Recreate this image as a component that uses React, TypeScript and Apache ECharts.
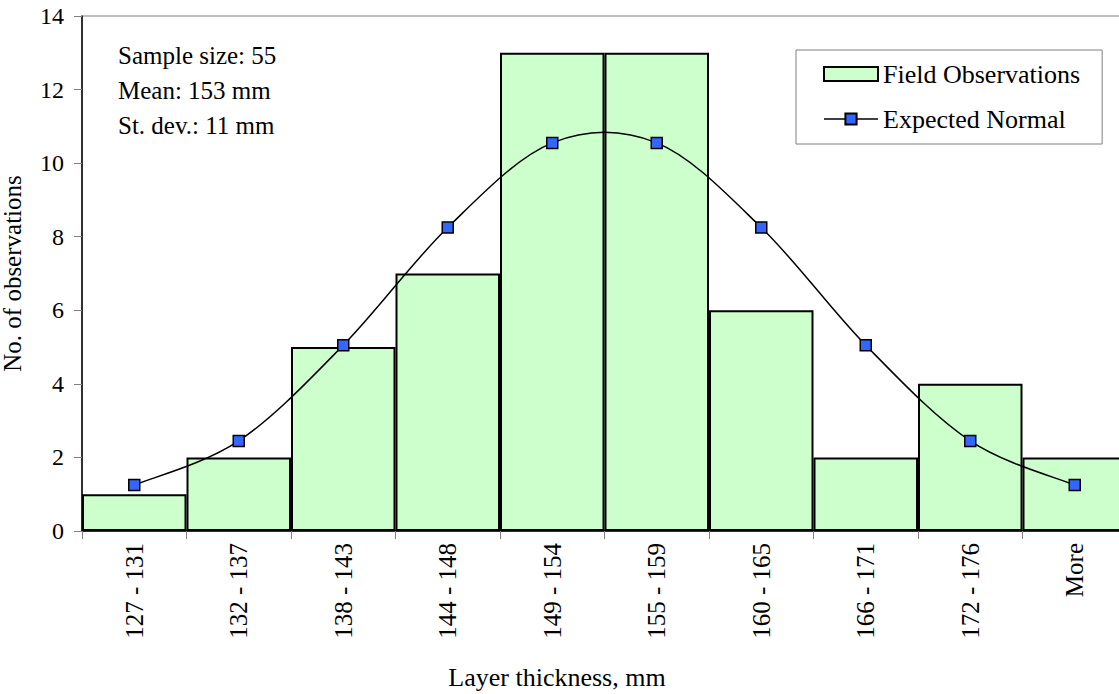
import React, { useEffect, useRef } from "react";
import * as echarts from "echarts";

const categories = ["127 - 131", "132 - 137", "138 - 143", "144 - 148", "149 - 154", "155 - 159", "160 - 165", "166 - 171", "172 - 176", "More"];
const fieldObservations = [1, 2, 5, 7, 13, 13, 6, 2, 4, 2];
const expectedNormal = [1.25, 2.45, 5.05, 8.25, 10.55, 10.55, 8.25, 5.05, 2.45, 1.25];
const statLines = ["Sample size: 55", "Mean: 153 mm", "St. dev.: 11 mm"];

const FONT = '"Times New Roman", "Liberation Serif", "DejaVu Serif", serif';

export default function App() {
  const ref = useRef<HTMLDivElement>(null);
  useEffect(() => {
    document.body.style.margin = "0";
    if (!ref.current) return;
    const chart = echarts.init(ref.current, null, { renderer: "svg" });
    chart.setOption({
      animation: false,
      backgroundColor: "#ffffff",
      textStyle: { fontFamily: FONT, color: "#000" },
      grid: {
        left: 82, top: 16, width: 1045, height: 515,
        outerBoundsMode: "none", containLabel: false,
        show: true, borderColor: "#808080", borderWidth: 1, backgroundColor: "#fff",
      },
      legend: {
        orient: "vertical",
        left: 796,
        top: 50,
        padding: [11, 22, 12, 27],
        itemGap: 19,
        itemWidth: 54,
        itemHeight: 14,
        borderColor: "#808080",
        borderWidth: 1,
        backgroundColor: "#fff",
        textStyle: { fontFamily: FONT, fontSize: 26, color: "#000" },
        data: [
          { name: "Field Observations", icon: "rect" },
          { name: "Expected Normal", lineStyle: { color: "#000", width: 1.5, opacity: 1 } },
        ],
      },
      xAxis: {
        type: "category",
        data: categories,
        axisLine: { lineStyle: { color: "#000", width: 1.5 } },
        axisTick: { show: true, length: 8, lineStyle: { color: "#808080" } },
        axisLabel: { rotate: 90, margin: 12, fontSize: 25, fontFamily: FONT, color: "#000" },
      },
      yAxis: {
        type: "value",
        min: 0,
        max: 14,
        interval: 2,
        name: "No. of observations",
        nameLocation: "middle",
        nameGap: 57,
        nameTextStyle: { fontSize: 25, fontFamily: FONT, color: "#000" },
        axisLine: { show: true, lineStyle: { color: "#000", width: 1.5 } },
        axisTick: { show: true, length: 8, lineStyle: { color: "#808080" } },
        axisLabel: { margin: 18, fontSize: 24, fontFamily: FONT, color: "#000" },
        splitLine: { show: false },
      },
      graphic: [
        {
          type: "text",
          left: 118,
          top: 38,
          style: {
            text: statLines.join("\n"),
            fontSize: 25,
            fontFamily: FONT,
            lineHeight: 35,
            fill: "#000",
          },
        },
        {
          type: "text",
          x: 557,
          y: 677,
          style: {
            text: "Layer thickness, mm",
            fontSize: 26,
            fontFamily: FONT,
            fill: "#000",
            align: "center",
            verticalAlign: "middle",
          },
        },
      ],
      series: [
        {
          name: "Field Observations",
          type: "bar",
          data: fieldObservations,
          barCategoryGap: 0,
          itemStyle: { color: "#CCFFCC", borderColor: "#000", borderWidth: 2 },
        },
        {
          name: "Expected Normal Curve",
          type: "custom",
          data: expectedNormal.map((v, i) => [i, v]),
          z: 4,
          silent: true,
          renderItem: (params: any, api: any) => {
            if (params.dataIndex !== 0) return null;
            const pts = expectedNormal.map((v, i) => api.coord([i, v]));
            const n = pts.length;
            let d = `M${pts[0][0]},${pts[0][1]}`;
            for (let i = 0; i < n - 1; i++) {
              const p0 = pts[Math.max(0, i - 1)];
              const p1 = pts[i];
              const p2 = pts[i + 1];
              const p3 = pts[Math.min(n - 1, i + 2)];
              const c1x = p1[0] + (p2[0] - p0[0]) / 6;
              const c1y = p1[1] + (p2[1] - p0[1]) / 6;
              const c2x = p2[0] - (p3[0] - p1[0]) / 6;
              const c2y = p2[1] - (p3[1] - p1[1]) / 6;
              d += ` C${c1x},${c1y} ${c2x},${c2y} ${p2[0]},${p2[1]}`;
            }
            return {
              type: "path",
              shape: { pathData: d },
              style: { stroke: "#000", lineWidth: 1.5, fill: "none" },
            };
          },
        },
        {
          name: "Expected Normal",
          type: "line",
          data: expectedNormal,
          symbol: "rect",
          symbolSize: 11,
          lineStyle: { color: "#000", width: 0, opacity: 0 },
          itemStyle: { color: "#3366FF", borderColor: "#000", borderWidth: 1.5 },
          z: 5,
        },
      ],
    });
    return () => chart.dispose();
  }, []);
  return <div ref={ref} style={{ width: 1119, height: 694 }} />;
}
